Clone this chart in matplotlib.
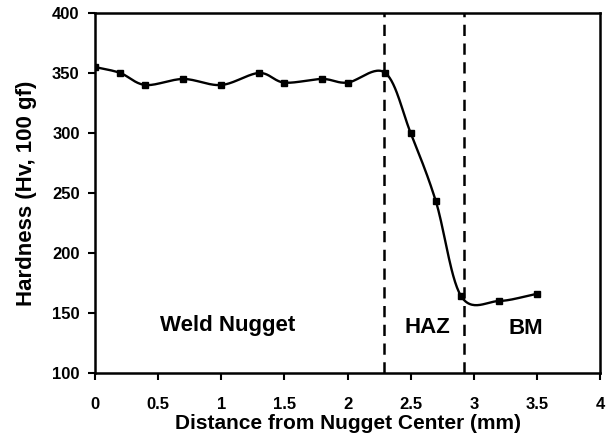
import numpy as np
import matplotlib.pyplot as plt

plt.rcParams['font.family'] = ['Liberation Sans', 'DejaVu Sans']
plt.rcParams['font.weight'] = 'bold'

# measured hardness profile
distance = [0.0, 0.2, 0.4, 0.7, 1.0, 1.3, 1.5, 1.8, 2.0, 2.3, 2.5, 2.7, 2.9, 3.2, 3.5]
hardness = [355, 350, 340, 345, 340, 350, 342, 345, 342, 350, 300, 243, 164, 160, 166]

# zone boundaries
boundaries = [2.29, 2.92]
zone_labels = ['Weld Nugget', 'HAZ', 'BM']
zone_pos = [(1.05, 140), (2.63, 138), (3.41, 137)]


def smooth_curve(x, y, n=30):
    # Catmull-Rom style smoothing, like a spreadsheet "smoothed line"
    x = np.asarray(x, float)
    y = np.asarray(y, float)
    px = np.concatenate([[2 * x[0] - x[1]], x, [2 * x[-1] - x[-2]]])
    py = np.concatenate([[2 * y[0] - y[1]], y, [2 * y[-1] - y[-2]]])
    xs, ys = [], []
    t = np.linspace(0, 1, n)
    for i in range(1, len(px) - 2):
        p0, p1, p2, p3 = px[i - 1], px[i], px[i + 1], px[i + 2]
        q0, q1, q2, q3 = py[i - 1], py[i], py[i + 1], py[i + 2]
        # bezier control points
        c1x, c1y = p1 + (p2 - p0) / 6, q1 + (q2 - q0) / 6
        c2x, c2y = p2 - (p3 - p1) / 6, q2 - (q3 - q1) / 6
        bx = (1 - t)**3 * p1 + 3 * (1 - t)**2 * t * c1x + 3 * (1 - t) * t**2 * c2x + t**3 * p2
        by = (1 - t)**3 * q1 + 3 * (1 - t)**2 * t * c1y + 3 * (1 - t) * t**2 * c2y + t**3 * q2
        xs.append(bx)
        ys.append(by)
    return np.concatenate(xs), np.concatenate(ys)


fig = plt.figure(figsize=(6.07, 4.42), dpi=100)
ax = fig.add_axes([0.1565, 0.1561, 0.832, 0.8145])

sx, sy = smooth_curve(distance, hardness)
ax.plot(sx, sy, color='black', lw=1.7, zorder=3)
ax.plot(distance, hardness, 's', color='black', ms=5, zorder=4)

for b in boundaries:
    ax.axvline(b, color='black', lw=1.8, dashes=(4.5, 3.0), zorder=2)

for lab, (tx, ty) in zip(zone_labels, zone_pos):
    ax.text(tx, ty, lab, ha='center', va='center', fontsize=16, fontweight='bold')

ax.set_xlim(0, 4)
ax.set_ylim(100, 400)
ax.set_xticks(np.arange(0, 4.01, 0.5))
ax.set_xticklabels(['0', '0.5', '1', '1.5', '2', '2.5', '3', '3.5', '4'])
ax.set_yticks(np.arange(100, 401, 50))

ax.set_xlabel('Distance from Nugget Center (mm)', fontsize=15, fontweight='bold', labelpad=2)
ax.set_ylabel('Hardness (Hv, 100 gf)', fontsize=16, fontweight='bold', labelpad=11)

for s in ax.spines.values():
    s.set_linewidth(1.8)
ax.tick_params(axis='both', direction='out', width=1.5, length=5, labelsize=12)
ax.tick_params(axis='x', pad=12)
ax.tick_params(axis='y', pad=6)
for lab in ax.get_xticklabels() + ax.get_yticklabels():
    lab.set_fontweight('bold')

fig.savefig('out.png', dpi=100)
